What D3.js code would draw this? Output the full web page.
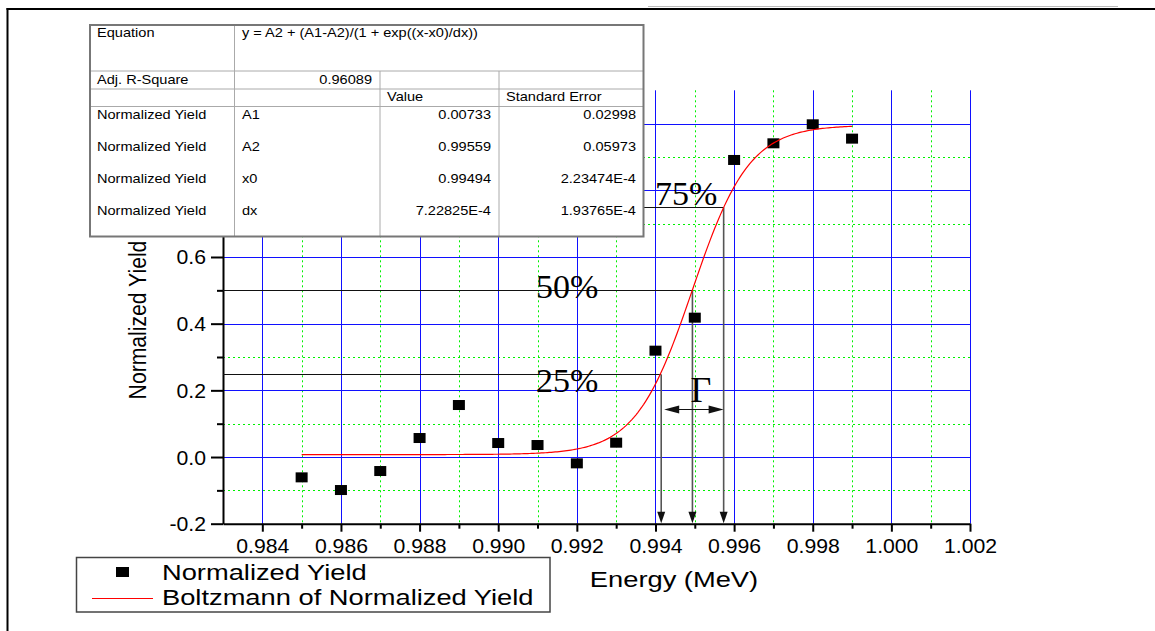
<!DOCTYPE html>
<html>
<head>
<meta charset="utf-8">
<script src="https://cdn.jsdelivr.net/npm/d3@7"></script>
<style>
  html, body { margin: 0; padding: 0; background: #fff; }
  svg { display: block; }
</style>
</head>
<body>
<svg id="chart" width="1155" height="631"></svg>
<script>
// ---- data ----
const energies = [0.985, 0.986, 0.987, 0.988, 0.989, 0.990, 0.991, 0.992,
                  0.993, 0.994, 0.995, 0.996, 0.997, 0.998, 0.999];
const yields   = [-0.061, -0.099, -0.042, 0.057, 0.156, 0.042, 0.036, -0.019,
                  0.043, 0.319, 0.418, 0.891, 0.941, 0.998, 0.955];

// Boltzmann fit parameters
const fitA1 = 0.00733;
const fitA2 = 0.99559;
const fitX0 = 0.99494;
const fitDx = 7.22825e-4;

const xMajorTicks = [0.984, 0.986, 0.988, 0.990, 0.992, 0.994, 0.996, 0.998, 1.000, 1.002];
const xMinorTicks = [0.985, 0.987, 0.989, 0.991, 0.993, 0.995, 0.997, 0.999, 1.001];
const yMajorTicks = [-0.2, 0.0, 0.2, 0.4, 0.6, 0.8, 1.0];
const yMinorTicks = [-0.1, 0.1, 0.3, 0.5, 0.7, 0.9];
// labels above 0.6 sit under the results table
const yLabelledMax = 0.6;

const levelFractions = [0.25, 0.5, 0.75];
const levelLabels = ["25%", "50%", "75%"];

const tableEquation = "y = A2 + (A1-A2)/(1 + exp((x-x0)/dx))";
const tableAdjR2 = "0.96089";
const tableParamNames = ["A1", "A2", "x0", "dx"];
const tableParamValues = ["0.00733", "0.99559", "0.99494", "7.22825E-4"];
const tableParamErrors = ["0.02998", "0.05973", "2.23474E-4", "1.93765E-4"];

const seriesName = "Normalized Yield";
const fitName = "Boltzmann of Normalized Yield";

// ---- setup ----
const svg = d3.select("#chart");
const SANS = "'Liberation Sans', Arial, sans-serif";
const SERIF = "'Liberation Serif', 'Times New Roman', serif";

const x = d3.scaleLinear().domain([0.983, 1.002]).range([223, 970]);
const y = d3.scaleLinear().domain([-0.2, 1.1]).range([523.7, 90.3]);

const boltz = e => fitA2 + (fitA1 - fitA2) / (1 + Math.exp((e - fitX0) / fitDx));

// horizontally widened text: glyphs are stretched through textLength
function widen(t, k) {
  if (k === 1) return t;
  const w = t.node().getComputedTextLength();
  return t.attr("textLength", (w * k).toFixed(2)).attr("lengthAdjust", "spacingAndGlyphs");
}
function stext(g, str, px, py, size, k, anchor, family) {
  const t = g.append("text")
    .attr("x", px).attr("y", py)
    .attr("text-anchor", anchor || "start")
    .style("font-family", family || SANS)
    .style("font-size", size + "px")
    .attr("fill", "#000")
    .text(str);
  return widen(t, k);
}

// ---- outer frame ----
svg.append("line").attr("x1", 648).attr("x2", 1118).attr("y1", 6.5).attr("y2", 6.5)
  .attr("stroke", "#bbb").attr("stroke-width", 1);
svg.append("line").attr("x1", 6.5).attr("x2", 1155).attr("y1", 9).attr("y2", 9)
  .attr("stroke", "#000").attr("stroke-width", 2);
svg.append("line").attr("x1", 7.5).attr("x2", 7.5).attr("y1", 8).attr("y2", 631)
  .attr("stroke", "#000").attr("stroke-width", 2);

// ---- grid ----
const [yBot, yTop] = y.range();
const [xL, xR] = x.range();
const grid = svg.append("g");
grid.selectAll(".gxm").data(xMinorTicks).join("line")
  .attr("x1", d => Math.round(x(d)) + 0.5).attr("x2", d => Math.round(x(d)) + 0.5)
  .attr("y1", yTop).attr("y2", yBot)
  .attr("stroke", "#00f000").attr("stroke-width", 1).attr("stroke-dasharray", "2,3");
grid.selectAll(".gym").data(yMinorTicks).join("line")
  .attr("y1", d => Math.round(y(d)) + 0.5).attr("y2", d => Math.round(y(d)) + 0.5)
  .attr("x1", xL).attr("x2", xR)
  .attr("stroke", "#00f000").attr("stroke-width", 1).attr("stroke-dasharray", "2,3");
grid.selectAll(".gxM").data(xMajorTicks).join("line")
  .attr("x1", d => Math.round(x(d)) + 0.5).attr("x2", d => Math.round(x(d)) + 0.5)
  .attr("y1", yTop).attr("y2", yBot)
  .attr("stroke", "#1010ff").attr("stroke-width", 1);
grid.selectAll(".gyM").data(yMajorTicks.filter(d => d > -0.2)).join("line")
  .attr("y1", d => Math.round(y(d)) + 0.5).attr("y2", d => Math.round(y(d)) + 0.5)
  .attr("x1", xL).attr("x2", xR)
  .attr("stroke", "#1010ff").attr("stroke-width", 1);

// ---- axes ----
const fmt3 = d3.format(".3f");
const fmt1 = d => d > yLabelledMax + 1e-9 ? "" : d3.format(".1f")(d).replace("\u2212", "-");

const xAxisG = svg.append("g").attr("transform", `translate(0,${yBot})`);
xAxisG.call(d3.axisBottom(x).tickValues(xMinorTicks).tickSize(5).tickSizeOuter(0).tickFormat(""));
xAxisG.select(".domain").remove();
const xAxisM = svg.append("g").attr("transform", `translate(0,${yBot})`);
xAxisM.call(d3.axisBottom(x).tickValues(xMajorTicks).tickSize(8).tickSizeOuter(0).tickFormat(fmt3));

const yAxisG = svg.append("g").attr("transform", `translate(${xL},0)`);
yAxisG.call(d3.axisLeft(y).tickValues(yMinorTicks).tickSize(6).tickSizeOuter(0).tickFormat(""));
yAxisG.select(".domain").remove();
const yAxisM = svg.append("g").attr("transform", `translate(${xL},0)`);
yAxisM.call(d3.axisLeft(y).tickValues(yMajorTicks).tickSize(12).tickSizeOuter(0).tickFormat(fmt1));

[xAxisG, xAxisM, yAxisG, yAxisM].forEach(g => {
  g.selectAll("line").attr("stroke", "#000").attr("stroke-width", 2);
  g.selectAll(".domain").attr("stroke", "#000").attr("stroke-width", 2);
});

xAxisM.selectAll("text")
  .attr("y", 29.5).attr("dy", null)
  .style("font-family", SANS).style("font-size", "20px").attr("fill", "#000")
  .each(function () { widen(d3.select(this), 1.06); });
yAxisM.selectAll("text").filter(function () { return this.textContent === ""; }).remove();
yAxisM.selectAll("text")
  .attr("x", -17).attr("y", 7).attr("dy", null)
  .attr("text-anchor", "end")
  .style("font-family", SANS).style("font-size", "20px").attr("fill", "#000")
  .each(function () { widen(d3.select(this), 1.06); });

// ---- level guides (25 / 50 / 75 %) ----
const guides = svg.append("g");
const levelX = levelFractions.map(f => fitX0 + fitDx * Math.log(f / (1 - f)));
levelFractions.forEach((f, i) => {
  const yy = Math.round(y(f)) + 0.5;
  const xx = x(levelX[i]);
  guides.append("line").attr("x1", xL).attr("x2", xx).attr("y1", yy).attr("y2", yy)
    .attr("stroke", "#111").attr("stroke-width", 1);
  guides.append("line").attr("x1", xx).attr("x2", xx).attr("y1", yy).attr("y2", yBot - 10)
    .attr("stroke", "#555").attr("stroke-width", 1.6);
  guides.append("path")
    .attr("d", `M${xx - 4},${yBot - 12} L${xx + 4},${yBot - 12} L${xx},${yBot - 0.5} Z`)
    .attr("fill", "#111");
});

// Γ width arrow between the 25 % and 75 % energies
const gx1 = x(levelX[0]) + 3, gx2 = x(levelX[2]);
const gy = 409.5;
guides.append("line").attr("x1", gx1 + 10).attr("x2", gx2 - 10).attr("y1", gy).attr("y2", gy)
  .attr("stroke", "#111").attr("stroke-width", 1);
guides.append("path").attr("d", `M${gx1},${gy} L${gx1 + 15},${gy - 4} L${gx1 + 15},${gy + 4} Z`).attr("fill", "#111");
guides.append("path").attr("d", `M${gx2},${gy} L${gx2 - 15},${gy - 4} L${gx2 - 15},${gy + 4} Z`).attr("fill", "#111");

// ---- data markers ----
const pts = energies.map((e, i) => ({ e, v: yields[i] }));
svg.append("g").selectAll("rect").data(pts).join("rect")
  .attr("x", d => x(d.e) - 6).attr("y", d => y(d.v) - 5)
  .attr("width", 12).attr("height", 10)
  .attr("fill", "#000");

// ---- fitted curve ----
const curveE = d3.range(0, 281).map(i => energies[0] + (energies[energies.length - 1] - energies[0]) * i / 280);
svg.append("path")
  .datum(curveE)
  .attr("d", d3.line().x(e => x(e)).y(e => y(boltz(e))))
  .attr("fill", "none").attr("stroke", "#ff0000").attr("stroke-width", 1.2);

// ---- annotations ----
const ann = svg.append("g");
stext(ann, levelLabels[0], 536, 392, 34, 1, "start", SERIF);
stext(ann, levelLabels[1], 536, 298, 34, 1, "start", SERIF);
stext(ann, levelLabels[2], 655, 205, 34, 1, "start", SERIF);
stext(ann, "\u0393", 701, 402, 36, 1, "middle", SERIF);

// axis titles
stext(svg, "Energy (MeV)", 674, 587, 22, 1.24, "middle");
const yTitle = svg.append("text")
  .attr("transform", "translate(146,320) rotate(-90)")
  .attr("text-anchor", "middle")
  .style("font-family", SANS).style("font-size", "23px")
  .attr("fill", "#000")
  .text("Normalized Yield");
widen(yTitle, 0.92);

// ---- fit results table ----
const tbl = svg.append("g");
const tL = 90, tR = 643.5, tT = 25, tB = 236.5;
const colX = [tL, 234.5, 380, 499, tR];
const rowY = [tT, 71, 89, 106.5, tB];
tbl.append("rect").attr("x", tL).attr("y", tT).attr("width", tR - tL).attr("height", tB - tT)
  .attr("fill", "#fff");
// horizontal rules
rowY.slice(1, 4).forEach(ry => {
  tbl.append("line").attr("x1", tL).attr("x2", tR).attr("y1", ry).attr("y2", ry)
    .attr("stroke", "#aaa").attr("stroke-width", 1);
});
// vertical rules
tbl.append("line").attr("x1", colX[1]).attr("x2", colX[1]).attr("y1", tT).attr("y2", tB)
  .attr("stroke", "#aaa").attr("stroke-width", 1);
[colX[2], colX[3]].forEach(cx => {
  tbl.append("line").attr("x1", cx).attr("x2", cx).attr("y1", rowY[1]).attr("y2", tB)
    .attr("stroke", "#aaa").attr("stroke-width", 1);
});
tbl.append("rect").attr("x", tL).attr("y", tT).attr("width", tR - tL).attr("height", tB - tT)
  .attr("fill", "none").attr("stroke", "#777").attr("stroke-width", 2);

const TS = 13, TK = 1.12;
stext(tbl, "Equation", 97, 37, TS, TK);
stext(tbl, tableEquation, 242, 37, TS, TK);
stext(tbl, "Adj. R-Square", 97, 83.5, TS, TK);
stext(tbl, tableAdjR2, 372, 83.5, TS, TK, "end");
stext(tbl, "Value", 387, 101, TS, TK);
stext(tbl, "Standard Error", 506, 101, TS, TK);
const rowBase = [118.5, 151, 183, 215];
tableParamNames.forEach((n, i) => {
  stext(tbl, seriesName, 97, rowBase[i], TS, TK);
  stext(tbl, n, 242, rowBase[i], TS, TK);
  stext(tbl, tableParamValues[i], 491, rowBase[i], TS, TK, "end");
  stext(tbl, tableParamErrors[i], 636, rowBase[i], TS, TK, "end");
});

// ---- legend ----
const lg = svg.append("g");
lg.append("rect").attr("x", 76.5).attr("y", 557.5).attr("width", 473.5).attr("height", 54.5)
  .attr("fill", "#fff").attr("stroke", "#444").attr("stroke-width", 1.5);
lg.append("rect").attr("x", 116).attr("y", 567).attr("width", 13).attr("height", 10).attr("fill", "#000");
lg.append("line").attr("x1", 92).attr("x2", 153).attr("y1", 598.5).attr("y2", 598.5)
  .attr("stroke", "#ff0000").attr("stroke-width", 1.2);
stext(lg, seriesName, 162, 579.5, 22, 1.24);
stext(lg, fitName, 162, 605, 22, 1.24);
</script>
</body>
</html>
